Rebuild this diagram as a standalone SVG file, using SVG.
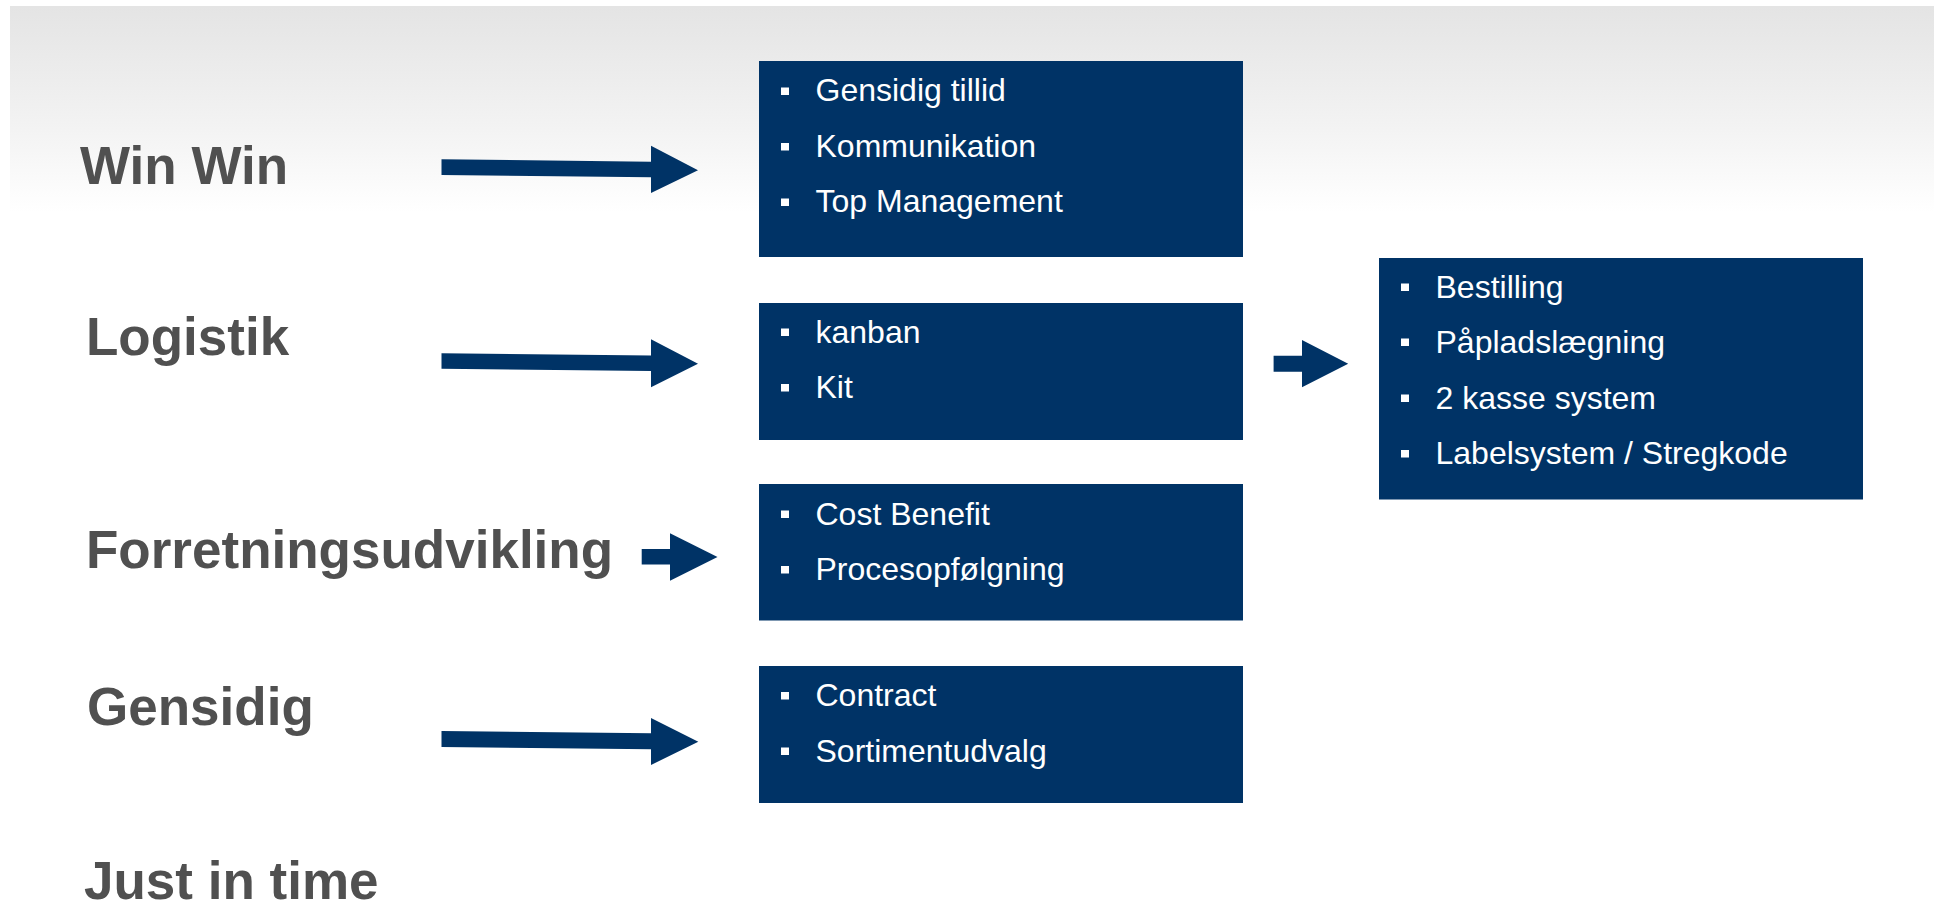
<svg xmlns="http://www.w3.org/2000/svg" width="1934" height="911" viewBox="0 0 1934 911">
<style>
.lbl{font-family:"Liberation Sans",Arial,sans-serif;font-weight:bold;font-size:53px;fill:#505050}
.box{fill:#003366}
.item{font-family:"Liberation Sans",Arial,sans-serif;font-size:32px;fill:#ffffff}
.bul{fill:#ffffff}
.arr{fill:#003366}
</style>
<defs>
<linearGradient id="bg" x1="0" y1="0" x2="0" y2="1">
<stop offset="0" stop-color="#e4e4e4"/>
<stop offset="0.6" stop-color="#f3f3f3"/>
<stop offset="1" stop-color="#ffffff"/>
</linearGradient>
</defs>
<rect x="0" y="0" width="1934" height="911" fill="#ffffff"/>
<rect x="10" y="6" width="1924" height="206" fill="url(#bg)"/>

<g id="label-winwin"><text class="lbl" x="80" y="184">Win Win</text></g>
<g id="label-logistik"><text class="lbl" x="86" y="355">Logistik</text></g>
<g id="label-forretning"><text class="lbl" x="86" y="568">Forretningsudvikling</text></g>
<g id="label-gensidig"><text class="lbl" x="87" y="725">Gensidig</text></g>
<g id="label-jit"><text class="lbl" x="84" y="899">Just in time</text></g>

<g id="box-winwin">
<rect class="box" x="759" y="61" width="484" height="196"/>
<rect class="bul" x="781" y="87.5" width="8" height="7.5"/>
<text class="item" x="815.5" y="101">Gensidig tillid</text>
<rect class="bul" x="781" y="143" width="8" height="7.5"/>
<text class="item" x="815.5" y="156.5">Kommunikation</text>
<rect class="bul" x="781" y="198.5" width="8" height="7.5"/>
<text class="item" x="815.5" y="212">Top Management</text>
</g>

<g id="box-logistik">
<rect class="box" x="759" y="303" width="484" height="137"/>
<rect class="bul" x="781" y="328.5" width="8" height="7.5"/>
<text class="item" x="815.5" y="342.5">kanban</text>
<rect class="bul" x="781" y="384" width="8" height="7.5"/>
<text class="item" x="815.5" y="398">Kit</text>
</g>

<g id="box-forretning">
<rect class="box" x="759" y="484" width="484" height="136.5"/>
<rect class="bul" x="781" y="510.5" width="8" height="7.5"/>
<text class="item" x="815.5" y="524.5">Cost Benefit</text>
<rect class="bul" x="781" y="566" width="8" height="7.5"/>
<text class="item" x="815.5" y="580">Procesopfølgning</text>
</g>

<g id="box-gensidig">
<rect class="box" x="759" y="666" width="484" height="137"/>
<rect class="bul" x="781" y="692" width="8" height="7.5"/>
<text class="item" x="815.5" y="706">Contract</text>
<rect class="bul" x="781" y="747.5" width="8" height="7.5"/>
<text class="item" x="815.5" y="761.5">Sortimentudvalg</text>
</g>

<g id="box-logistik-detail">
<rect class="box" x="1379" y="258" width="484" height="241.5"/>
<rect class="bul" x="1401" y="283.5" width="8" height="7.5"/>
<text class="item" x="1435.5" y="297.5">Bestilling</text>
<rect class="bul" x="1401" y="338.5" width="8" height="7.5"/>
<text class="item" x="1435.5" y="352.5">Påpladslægning</text>
<rect class="bul" x="1401" y="394.5" width="8" height="7.5"/>
<text class="item" x="1435.5" y="408.5">2 kasse system</text>
<rect class="bul" x="1401" y="450" width="8" height="7.5"/>
<text class="item" x="1435.5" y="464">Labelsystem / Stregkode</text>
</g>

<g id="connectors">
<polygon class="arr" points="441.5,159.3 651,161.7 651,145.7 698,170.3 651,193 651,177.3 441.5,175"/>
<polygon class="arr" points="441.5,353.3 651,355.5 651,339.3 698,363.7 651,387.3 651,371 441.5,368.7"/>
<polygon class="arr" points="641.7,549 670,549 670,533.3 717.5,557 670,580.7 670,564.5 641.7,564.5"/>
<polygon class="arr" points="441.5,731 651,733.2 651,718 698.3,741.7 651,765 651,749.3 441.5,747"/>
<polygon class="arr" points="1273.6,355.7 1302,355.7 1302,340 1348.2,363.7 1302,387.3 1302,371.7 1273.6,371.7"/>
</g>
</svg>
